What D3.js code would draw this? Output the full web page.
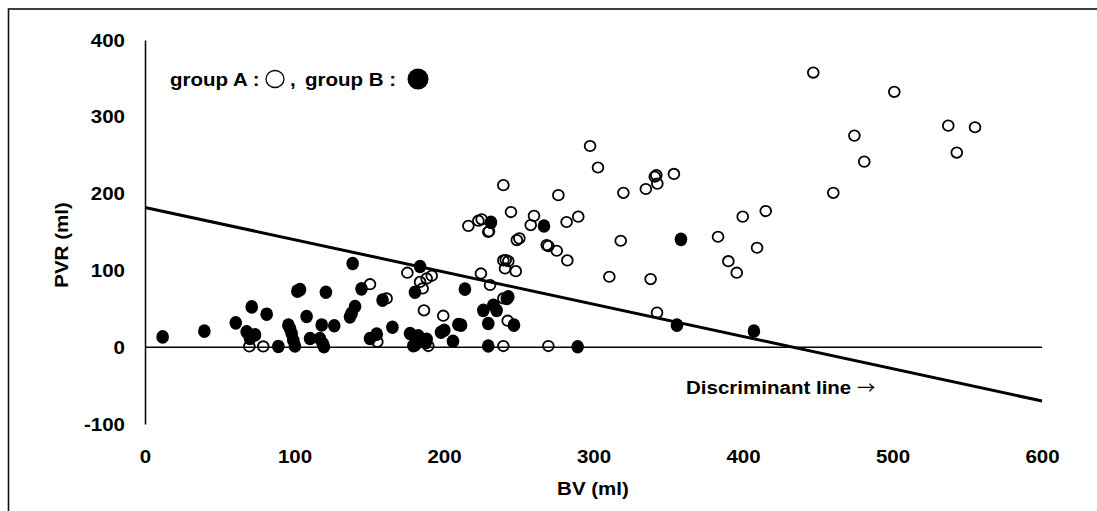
<!DOCTYPE html>
<html>
<head>
<meta charset="utf-8">
<script src="https://cdn.jsdelivr.net/npm/d3@7"></script>
<style>
	body { margin: 0; background: #fff; }
	svg text { font-family: 'Liberation Sans', Arial, sans-serif; font-weight: bold; fill: #000; }
</style>
</head>
<body>
<div id="chart"></div>
<script>
// group A (open circles) : [BV, PVR]
var groupA = [
	[69.8, 1], [79.1, 1], [150.5, 82], [161.6, 63.5], [155.4, 7], [189.5, 1.5],
	[175.5, 97], [184, 85], [188.4, 89.5], [191.8, 93], [185.7, 76.5], [186.6, 48],
	[199.5, 41], [224.7, 96], [230.8, 81], [239.7, 1.5], [239.7, 63.5], [242.6, 34.5],
	[269.8, 1.5], [268.7, 133], [239.7, 113], [241.3, 113.5], [243, 112], [240.8, 102.6],
	[248, 99], [248.7, 139.5], [250.4, 141.7], [229.6, 150], [239.7, 211], [276.5, 198],
	[303, 234], [297.7, 262], [320, 201], [335, 206], [342, 224], [342.7, 213],
	[341, 222], [244.8, 176], [260.2, 171], [258, 159], [282, 163], [289.8, 170],
	[216.3, 158], [223, 164.7], [225.2, 166.5], [230.1, 151], [269.8, 131.7], [275.4, 125.6],
	[282.5, 113], [318.2, 138.6], [310.6, 91.7], [338.2, 88.7], [342.5, 45], [353.8, 225.6],
	[383.3, 143.8], [399.8, 170], [415.2, 177.3], [409.4, 129.5], [390.2, 112], [395.8, 97],
	[460.4, 201], [474.5, 275.5], [481.1, 241.6], [447, 357.6], [501.2, 332.5], [537.3, 288.5],
	[555.2, 286.4], [543, 253.4]
];

// group B (filled circles) : [BV, PVR]
var groupB = [
	[11.8, 13.4], [39.7, 20.9], [60.7, 31.7], [71.4, 52.5], [81.4, 43], [68, 20],
	[73.6, 16], [70.2, 11.3], [89.2, 1], [95.9, 28.7], [97, 24.4], [98.1, 17.8],
	[99.2, 9], [100.3, 1.5], [101.9, 73], [103.7, 75], [121, 71.5], [108.1, 40],
	[118.2, 29], [126.6, 28], [110.4, 11.3], [117, 11.3], [118.9, 4.8], [119.7, 0.5],
	[138.9, 109], [140.5, 53], [138.2, 44], [137.1, 39.5], [144.8, 76], [158.9, 61.3],
	[165.5, 26], [150.5, 11.3], [155, 17], [177.3, 17.8], [182.8, 14.7], [188.4, 10.4],
	[179.5, 2], [180.6, 3], [187.8, 6], [184, 105], [180.6, 71.5], [214, 75.6],
	[209.6, 29.6], [211.4, 28.7], [200.2, 22], [198, 19.5], [206, 7.8], [226.3, 48],
	[233, 54.7], [235.2, 48], [229.6, 30.8], [246.8, 28.7], [229.6, 1.5], [243, 65.6],
	[242, 63.5], [231.4, 162.6], [266.9, 157.8], [289.4, 0.5], [358.5, 140.4], [355.8, 28.7],
	[407.3, 21]
];

// discriminant line end points
var discLine = [[0, 182], [600, -70]];

var xTicks = [0, 100, 200, 300, 400, 500, 600];
var yTicks = [-100, 0, 100, 200, 300, 400];

var width = 1097,
	height = 511;
var fontSize = '19px';
var stretch = 1.08; // the original lettering is a bit wide

var svg = d3.select('#chart')
	.append('svg')
	.attr('width', width)
	.attr('height', height);

// outer frame (right and bottom run off the picture)
svg.append('rect')
	.attr('x', 8.5)
	.attr('y', 9)
	.attr('width', 1110)
	.attr('height', 530)
	.attr('fill', 'none')
	.attr('stroke', '#111')
	.attr('stroke-width', 1.6);

var xScale = d3.scaleLinear().domain([0, 600]).range([145, 1042]);
var yScale = d3.scaleLinear().domain([-100, 400]).range([424, 40]);

// Y Axis - line and labels, no ticks
var yAxisCall = d3.axisLeft(yScale)
	.tickValues(yTicks)
	.tickSize(0)
	.tickPadding(20)
	.tickFormat(function (d) { return String(d); }); // plain hyphen for -100
var yAxis = svg.append('g')
	.attr('transform', 'translate(' + xScale(0) + ', 0)')
	.call(yAxisCall);
yAxis.select('.domain').attr('stroke', '#000').attr('stroke-width', 1.5);
yAxis.selectAll('text')
	.style('font-size', fontSize)
	.attr('font-family', null)
	.attr('x', -20 / stretch)
	.attr('transform', 'scale(' + stretch + ',1)');

// X Axis - labels only, below the plot
var xAxisCall = d3.axisBottom(xScale)
	.tickValues(xTicks)
	.tickSize(0)
	.tickPadding(26);
var xAxis = svg.append('g')
	.attr('transform', 'translate(0, ' + yScale(-100) + ')')
	.call(xAxisCall);
xAxis.select('.domain').remove();
xAxis.selectAll('text')
	.style('font-size', fontSize)
	.attr('font-family', null)
	.attr('transform', 'scale(' + stretch + ',1)');

// zero line
svg.append('line')
	.attr('x1', xScale(0))
	.attr('x2', xScale(600))
	.attr('y1', yScale(0))
	.attr('y2', yScale(0))
	.attr('stroke', '#000')
	.attr('stroke-width', 1.5);

// discriminant line
svg.append('path')
	.datum(discLine)
	.attr('fill', 'none')
	.attr('stroke', '#000')
	.attr('stroke-width', 3)
	.attr('d', d3.line()
		.x(function (d) { return xScale(d[0]); })
		.y(function (d) { return yScale(d[1]); }));

// group A
svg.append('g')
	.selectAll('ellipse')
	.data(groupA)
	.enter()
	.append('ellipse')
	.attr('cx', function (d) { return xScale(d[0]); })
	.attr('cy', function (d) { return yScale(d[1]); })
	.attr('rx', 5.4)
	.attr('ry', 5.2)
	.attr('fill', 'none')
	.attr('stroke', '#000')
	.attr('stroke-width', 1.8);

// group B
svg.append('g')
	.selectAll('ellipse')
	.data(groupB)
	.enter()
	.append('ellipse')
	.attr('cx', function (d) { return xScale(d[0]); })
	.attr('cy', function (d) { return yScale(d[1]); })
	.attr('rx', 6.3)
	.attr('ry', 6.8)
	.attr('fill', '#000');

// helper for stretched text
function label(x, y, txt, anchor) {
	return svg.append('text')
		.attr('transform', 'translate(' + x + ',' + y + ') scale(' + stretch + ',1)')
		.attr('text-anchor', anchor || 'start')
		.style('font-size', fontSize)
		.text(txt);
}

// axis titles
label(593, 495, 'BV (ml)', 'middle');

svg.append('text')
	.attr('transform', 'translate(68, 245) rotate(-90) scale(' + stretch + ',1)')
	.attr('text-anchor', 'middle')
	.style('font-size', fontSize)
	.text('PVR (ml)');

var disc = label(686, 394, 'Discriminant line ');
disc.append('tspan')
	.style('font-family', "'Noto Sans CJK JP', sans-serif")
	.style('font-weight', 'normal')
	.style('font-size', '17px')
	.text('\u2192');

// legend
label(170, 86, 'group A :');
svg.append('ellipse')
	.attr('cx', 275)
	.attr('cy', 79)
	.attr('rx', 9)
	.attr('ry', 8.5)
	.attr('fill', 'none')
	.attr('stroke', '#000')
	.attr('stroke-width', 1.3);
label(290, 86, ',');
label(305, 86, 'group B :');
svg.append('ellipse')
	.attr('cx', 418)
	.attr('cy', 79)
	.attr('rx', 10.5)
	.attr('ry', 10.5)
	.attr('fill', '#000');
</script>
</body>
</html>
